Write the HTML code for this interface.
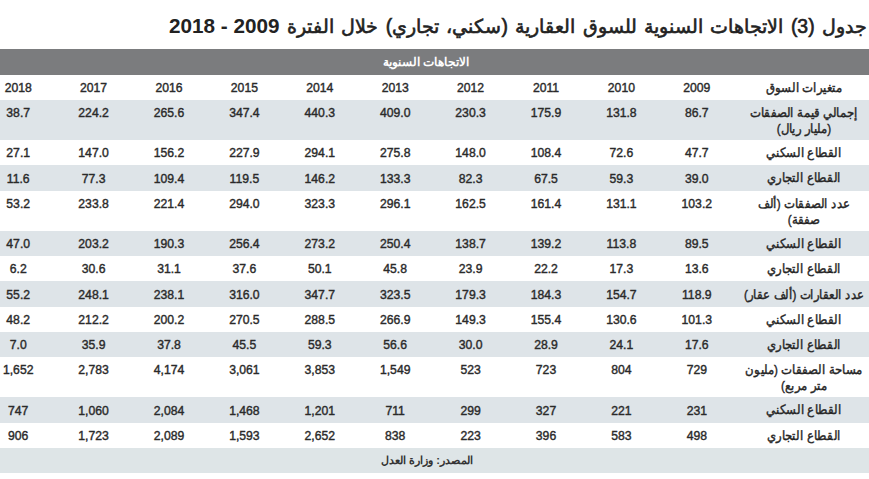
<!DOCTYPE html>
<html><head><meta charset="utf-8">
<style>
html,body{margin:0;padding:0;background:#fff;}
body{width:869px;height:479px;position:relative;overflow:hidden;font-family:"Liberation Sans",sans-serif;}
.title{position:absolute;right:2px;top:11px;font-size:19.4px;word-spacing:2px;font-weight:normal;-webkit-text-stroke:0.6px #222;color:#222;direction:rtl;white-space:nowrap;line-height:30px;}
.title .num{font-size:20.7px;word-spacing:0;font-weight:bold;-webkit-text-stroke:0;}
.bar{position:absolute;left:0;width:869px;}
.hdr{top:49px;height:26px;background:#7b7c7e;}
.hdr span{position:absolute;left:326px;width:200px;text-align:center;top:0;line-height:26px;color:#fff;font-weight:bold;font-size:12px;direction:rtl;}
.l{background:#dee4e8;}
.w{background:#fff;}
.c{position:absolute;width:70px;text-align:center;font-size:12.2px;font-weight:normal;color:#2a2a2a;-webkit-text-stroke:0.4px #2a2a2a;line-height:25px;top:1px;}
.lab{position:absolute;width:180px;text-align:center;font-size:13px;transform:scaleX(0.9);transform-origin:50% 0;font-weight:normal;-webkit-text-stroke:0.4px #262626;color:#262626;direction:rtl;top:5px;line-height:16px;white-space:nowrap;}
.foot{top:448px;height:25px;background:#dee5e7;}
.foot span{position:absolute;left:277px;width:300px;text-align:center;top:0;line-height:25px;color:#333;font-size:11px;font-weight:bold;direction:rtl;}
</style></head><body>
<div class="title">جدول (3) الاتجاهات السنوية للسوق العقارية (سكني، تجاري) خلال الفترة <span class="num">2009 - 2018</span></div>
<div class="bar hdr"><span>الاتجاهات السنوية</span></div>

<div class="bar w" style="top:75px;height:25px">
<div class="lab" style="left:714px;top:5px">متغيرات السوق</div>
<div class="c" style="left:661.80px;line-height:25px">2009</div>
<div class="c" style="left:586.40px;line-height:25px">2010</div>
<div class="c" style="left:511.00px;line-height:25px">2011</div>
<div class="c" style="left:435.60px;line-height:25px">2012</div>
<div class="c" style="left:360.20px;line-height:25px">2013</div>
<div class="c" style="left:284.80px;line-height:25px">2014</div>
<div class="c" style="left:209.40px;line-height:25px">2015</div>
<div class="c" style="left:134.00px;line-height:25px">2016</div>
<div class="c" style="left:58.60px;line-height:25px">2017</div>
<div class="c" style="left:-16.80px;line-height:25px">2018</div>
</div>
<div class="bar l" style="top:100px;height:40px">
<div class="lab" style="left:714px;top:5px">إجمالي قيمة الصفقات<br>(مليار ريال)</div>
<div class="c" style="left:661.80px;line-height:25px">86.7</div>
<div class="c" style="left:586.40px;line-height:25px">131.8</div>
<div class="c" style="left:511.00px;line-height:25px">175.9</div>
<div class="c" style="left:435.60px;line-height:25px">230.3</div>
<div class="c" style="left:360.20px;line-height:25px">409.0</div>
<div class="c" style="left:284.80px;line-height:25px">440.3</div>
<div class="c" style="left:209.40px;line-height:25px">347.4</div>
<div class="c" style="left:134.00px;line-height:25px">265.6</div>
<div class="c" style="left:58.60px;line-height:25px">224.2</div>
<div class="c" style="left:-16.80px;line-height:25px">38.7</div>
</div>
<div class="bar w" style="top:140px;height:25px">
<div class="lab" style="left:714px;top:5px">القطاع السكني</div>
<div class="c" style="left:661.80px;line-height:25px">47.7</div>
<div class="c" style="left:586.40px;line-height:25px">72.6</div>
<div class="c" style="left:511.00px;line-height:25px">108.4</div>
<div class="c" style="left:435.60px;line-height:25px">148.0</div>
<div class="c" style="left:360.20px;line-height:25px">275.8</div>
<div class="c" style="left:284.80px;line-height:25px">294.1</div>
<div class="c" style="left:209.40px;line-height:25px">227.9</div>
<div class="c" style="left:134.00px;line-height:25px">156.2</div>
<div class="c" style="left:58.60px;line-height:25px">147.0</div>
<div class="c" style="left:-16.80px;line-height:25px">27.1</div>
</div>
<div class="bar l" style="top:165px;height:26px">
<div class="lab" style="left:714px;top:5px">القطاع التجاري</div>
<div class="c" style="left:661.80px;line-height:26px">39.0</div>
<div class="c" style="left:586.40px;line-height:26px">59.3</div>
<div class="c" style="left:511.00px;line-height:26px">67.5</div>
<div class="c" style="left:435.60px;line-height:26px">82.3</div>
<div class="c" style="left:360.20px;line-height:26px">133.3</div>
<div class="c" style="left:284.80px;line-height:26px">146.2</div>
<div class="c" style="left:209.40px;line-height:26px">119.5</div>
<div class="c" style="left:134.00px;line-height:26px">109.4</div>
<div class="c" style="left:58.60px;line-height:26px">77.3</div>
<div class="c" style="left:-16.80px;line-height:26px">11.6</div>
</div>
<div class="bar w" style="top:191px;height:40px">
<div class="lab" style="left:714px;top:5px">عدد الصفقات (ألف<br>صفقة)</div>
<div class="c" style="left:661.80px;line-height:25px">103.2</div>
<div class="c" style="left:586.40px;line-height:25px">131.1</div>
<div class="c" style="left:511.00px;line-height:25px">161.4</div>
<div class="c" style="left:435.60px;line-height:25px">162.5</div>
<div class="c" style="left:360.20px;line-height:25px">296.1</div>
<div class="c" style="left:284.80px;line-height:25px">323.3</div>
<div class="c" style="left:209.40px;line-height:25px">294.0</div>
<div class="c" style="left:134.00px;line-height:25px">221.4</div>
<div class="c" style="left:58.60px;line-height:25px">233.8</div>
<div class="c" style="left:-16.80px;line-height:25px">53.2</div>
</div>
<div class="bar l" style="top:231px;height:25px">
<div class="lab" style="left:714px;top:5px">القطاع السكني</div>
<div class="c" style="left:661.80px;line-height:25px">89.5</div>
<div class="c" style="left:586.40px;line-height:25px">113.8</div>
<div class="c" style="left:511.00px;line-height:25px">139.2</div>
<div class="c" style="left:435.60px;line-height:25px">138.7</div>
<div class="c" style="left:360.20px;line-height:25px">250.4</div>
<div class="c" style="left:284.80px;line-height:25px">273.2</div>
<div class="c" style="left:209.40px;line-height:25px">256.4</div>
<div class="c" style="left:134.00px;line-height:25px">190.3</div>
<div class="c" style="left:58.60px;line-height:25px">203.2</div>
<div class="c" style="left:-16.80px;line-height:25px">47.0</div>
</div>
<div class="bar w" style="top:256px;height:25px">
<div class="lab" style="left:714px;top:5px">القطاع التجاري</div>
<div class="c" style="left:661.80px;line-height:25px">13.6</div>
<div class="c" style="left:586.40px;line-height:25px">17.3</div>
<div class="c" style="left:511.00px;line-height:25px">22.2</div>
<div class="c" style="left:435.60px;line-height:25px">23.9</div>
<div class="c" style="left:360.20px;line-height:25px">45.8</div>
<div class="c" style="left:284.80px;line-height:25px">50.1</div>
<div class="c" style="left:209.40px;line-height:25px">37.6</div>
<div class="c" style="left:134.00px;line-height:25px">31.1</div>
<div class="c" style="left:58.60px;line-height:25px">30.6</div>
<div class="c" style="left:-16.80px;line-height:25px">6.2</div>
</div>
<div class="bar l" style="top:281px;height:26px">
<div class="lab" style="left:714px;top:6px">عدد العقارات (ألف عقار)</div>
<div class="c" style="left:661.80px;line-height:26px">118.9</div>
<div class="c" style="left:586.40px;line-height:26px">154.7</div>
<div class="c" style="left:511.00px;line-height:26px">184.3</div>
<div class="c" style="left:435.60px;line-height:26px">179.3</div>
<div class="c" style="left:360.20px;line-height:26px">323.5</div>
<div class="c" style="left:284.80px;line-height:26px">347.7</div>
<div class="c" style="left:209.40px;line-height:26px">316.0</div>
<div class="c" style="left:134.00px;line-height:26px">238.1</div>
<div class="c" style="left:58.60px;line-height:26px">248.1</div>
<div class="c" style="left:-16.80px;line-height:26px">55.2</div>
</div>
<div class="bar w" style="top:307px;height:25px">
<div class="lab" style="left:714px;top:5px">القطاع السكني</div>
<div class="c" style="left:661.80px;line-height:25px">101.3</div>
<div class="c" style="left:586.40px;line-height:25px">130.6</div>
<div class="c" style="left:511.00px;line-height:25px">155.4</div>
<div class="c" style="left:435.60px;line-height:25px">149.3</div>
<div class="c" style="left:360.20px;line-height:25px">266.9</div>
<div class="c" style="left:284.80px;line-height:25px">288.5</div>
<div class="c" style="left:209.40px;line-height:25px">270.5</div>
<div class="c" style="left:134.00px;line-height:25px">200.2</div>
<div class="c" style="left:58.60px;line-height:25px">212.2</div>
<div class="c" style="left:-16.80px;line-height:25px">48.2</div>
</div>
<div class="bar l" style="top:332px;height:25px">
<div class="lab" style="left:714px;top:5px">القطاع التجاري</div>
<div class="c" style="left:661.80px;line-height:25px">17.6</div>
<div class="c" style="left:586.40px;line-height:25px">24.1</div>
<div class="c" style="left:511.00px;line-height:25px">28.9</div>
<div class="c" style="left:435.60px;line-height:25px">30.0</div>
<div class="c" style="left:360.20px;line-height:25px">56.6</div>
<div class="c" style="left:284.80px;line-height:25px">59.3</div>
<div class="c" style="left:209.40px;line-height:25px">45.5</div>
<div class="c" style="left:134.00px;line-height:25px">37.8</div>
<div class="c" style="left:58.60px;line-height:25px">35.9</div>
<div class="c" style="left:-16.80px;line-height:25px">7.0</div>
</div>
<div class="bar w" style="top:357px;height:40px">
<div class="lab" style="left:714px;top:5px">مساحة الصفقات (مليون<br>متر مربع)</div>
<div class="c" style="left:661.80px;line-height:25px">729</div>
<div class="c" style="left:586.40px;line-height:25px">804</div>
<div class="c" style="left:511.00px;line-height:25px">723</div>
<div class="c" style="left:435.60px;line-height:25px">523</div>
<div class="c" style="left:360.20px;line-height:25px">1,549</div>
<div class="c" style="left:284.80px;line-height:25px">3,853</div>
<div class="c" style="left:209.40px;line-height:25px">3,061</div>
<div class="c" style="left:134.00px;line-height:25px">4,174</div>
<div class="c" style="left:58.60px;line-height:25px">2,783</div>
<div class="c" style="left:-16.80px;line-height:25px">1,652</div>
</div>
<div class="bar l" style="top:397px;height:26px">
<div class="lab" style="left:714px;top:5px">القطاع السكني</div>
<div class="c" style="left:661.80px;line-height:26px">231</div>
<div class="c" style="left:586.40px;line-height:26px">221</div>
<div class="c" style="left:511.00px;line-height:26px">327</div>
<div class="c" style="left:435.60px;line-height:26px">299</div>
<div class="c" style="left:360.20px;line-height:26px">711</div>
<div class="c" style="left:284.80px;line-height:26px">1,201</div>
<div class="c" style="left:209.40px;line-height:26px">1,468</div>
<div class="c" style="left:134.00px;line-height:26px">2,084</div>
<div class="c" style="left:58.60px;line-height:26px">1,060</div>
<div class="c" style="left:-16.80px;line-height:26px">747</div>
</div>
<div class="bar w" style="top:423px;height:25px">
<div class="lab" style="left:714px;top:5px">القطاع التجاري</div>
<div class="c" style="left:661.80px;line-height:25px">498</div>
<div class="c" style="left:586.40px;line-height:25px">583</div>
<div class="c" style="left:511.00px;line-height:25px">396</div>
<div class="c" style="left:435.60px;line-height:25px">223</div>
<div class="c" style="left:360.20px;line-height:25px">838</div>
<div class="c" style="left:284.80px;line-height:25px">2,652</div>
<div class="c" style="left:209.40px;line-height:25px">1,593</div>
<div class="c" style="left:134.00px;line-height:25px">2,089</div>
<div class="c" style="left:58.60px;line-height:25px">1,723</div>
<div class="c" style="left:-16.80px;line-height:25px">906</div>
</div>
<div class="bar foot"><span>المصدر: وزارة العدل</span></div>
</body></html>
